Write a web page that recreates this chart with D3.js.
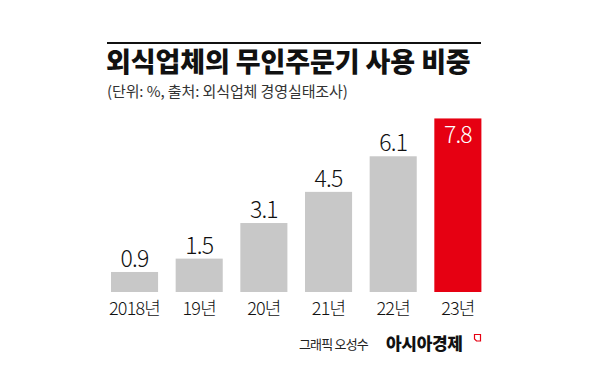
<!DOCTYPE html>
<html>
<head>
<meta charset="utf-8">
<script src="https://cdn.jsdelivr.net/npm/d3@7"></script>
<style>
  body { margin: 0; background: #fff; }
  text { font-family: "Noto Sans CJK KR", "Noto Sans", sans-serif; }
</style>
</head>
<body>
<svg id="chart" width="600" height="367"></svg>
<script>
const years = ["2018년", "19년", "20년", "21년", "22년", "23년"];
const shares = [0.9, 1.5, 3.1, 4.5, 6.1, 7.8];
const title = "외식업체의 무인주문기 사용 비중";
const subtitle = "(단위: %, 출처: 외식업체 경영실태조사)";
const credit = "그래픽 오성수";
const brand = "아시아경제";

const svg = d3.select("#chart");

const x = d3.scaleBand()
  .domain(years)
  .range([111, 481.4])
  .paddingInner(0.272)
  .paddingOuter(0);

const y = d3.scaleLinear()
  .domain([0, 8])
  .range([292, 114]);

// top rule
svg.append("line")
  .attr("x1", 107).attr("x2", 481)
  .attr("y1", 43).attr("y2", 43)
  .attr("stroke", "#111")
  .attr("stroke-width", 2);

svg.append("text")
  .attr("x", 106)
  .attr("y", 72)
  .attr("font-size", 27)
  .attr("font-weight", 900)
  .attr("letter-spacing", -0.1)
  .attr("fill", "#111")
  .text(title);

svg.append("text")
  .attr("x", 107)
  .attr("y", 97)
  .attr("font-size", 15)
  .attr("font-weight", 400)
  .attr("letter-spacing", -0.1)
  .attr("fill", "#333")
  .text(subtitle);

const last = years.length - 1;

svg.selectAll(".bar")
  .data(shares)
  .join("rect")
  .classed("bar", true)
  .attr("x", (d, i) => x(years[i]))
  .attr("y", d => y(d))
  .attr("width", x.bandwidth())
  .attr("height", d => y(0) - y(d))
  .attr("fill", (d, i) => i === last ? "#e60012" : "#c8c8c8");

svg.selectAll(".val")
  .data(shares)
  .join("text")
  .classed("val", true)
  .attr("x", (d, i) => x(years[i]) + x.bandwidth() / 2)
  .attr("y", (d, i) => i === last ? y(d) + 25 : y(d) - 5)
  .attr("text-anchor", "middle")
  .attr("font-size", 23)
  .attr("font-weight", 300)
  .attr("letter-spacing", -0.8)
  .attr("fill", (d, i) => i === last ? "#fff" : "#111")
  .text(d => d.toFixed(1));

svg.selectAll(".cat")
  .data(years)
  .join("text")
  .classed("cat", true)
  .attr("x", d => x(d) + x.bandwidth() / 2)
  .attr("y", 315)
  .attr("text-anchor", "middle")
  .attr("font-size", 18)
  .attr("font-weight", 300)
  .attr("letter-spacing", -0.8)
  .attr("fill", "#111")
  .text(d => d);

// footer
svg.append("text")
  .attr("x", 368)
  .attr("y", 349)
  .attr("text-anchor", "end")
  .attr("font-size", 13)
  .attr("font-weight", 400)
  .attr("letter-spacing", -0.8)
  .attr("fill", "#222")
  .text(credit);

svg.append("text")
  .attr("x", 386)
  .attr("y", 350)
  .attr("font-size", 17)
  .attr("font-weight", 900)
  .attr("letter-spacing", -0.3)
  .attr("fill", "#111")
  .text(brand);

// small red mark after the brand
svg.append("path")
  .attr("d", "M474.5,334.5 h6 v6.5 h-4 l-2,-2 Z")
  .attr("fill", "none")
  .attr("stroke", "#e60012")
  .attr("stroke-width", 1.2);
</script>
</body>
</html>
